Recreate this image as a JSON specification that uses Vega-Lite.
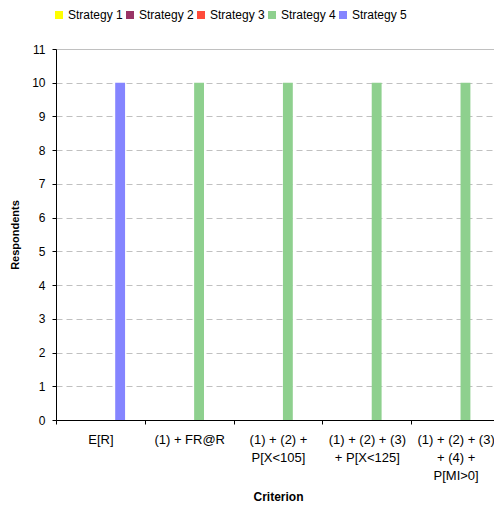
{
  "$schema": "https://vega.github.io/schema/vega-lite/v6.json",
  "autosize": "none",
  "width": 444,
  "height": 371,
  "padding": {"left": 56, "top": 49, "right": 0, "bottom": 87},
  "background": "white",
  "config": {
    "font": "Liberation Sans",
    "view": {"stroke": null}
  },
  "data": {
    "values": [
      {"criterion": "E[R]", "strategy": "Strategy 1", "respondents": 0},
      {"criterion": "E[R]", "strategy": "Strategy 2", "respondents": 0},
      {"criterion": "E[R]", "strategy": "Strategy 3", "respondents": 0},
      {"criterion": "E[R]", "strategy": "Strategy 4", "respondents": 0},
      {"criterion": "E[R]", "strategy": "Strategy 5", "respondents": 10},
      {"criterion": "(1) + FR@R", "strategy": "Strategy 1", "respondents": 0},
      {"criterion": "(1) + FR@R", "strategy": "Strategy 2", "respondents": 0},
      {"criterion": "(1) + FR@R", "strategy": "Strategy 3", "respondents": 0},
      {"criterion": "(1) + FR@R", "strategy": "Strategy 4", "respondents": 10},
      {"criterion": "(1) + FR@R", "strategy": "Strategy 5", "respondents": 0},
      {"criterion": "(1) + (2) +|P[X<105]", "strategy": "Strategy 1", "respondents": 0},
      {"criterion": "(1) + (2) +|P[X<105]", "strategy": "Strategy 2", "respondents": 0},
      {"criterion": "(1) + (2) +|P[X<105]", "strategy": "Strategy 3", "respondents": 0},
      {"criterion": "(1) + (2) +|P[X<105]", "strategy": "Strategy 4", "respondents": 10},
      {"criterion": "(1) + (2) +|P[X<105]", "strategy": "Strategy 5", "respondents": 0},
      {"criterion": "(1) + (2) + (3)|+ P[X<125]", "strategy": "Strategy 1", "respondents": 0},
      {"criterion": "(1) + (2) + (3)|+ P[X<125]", "strategy": "Strategy 2", "respondents": 0},
      {"criterion": "(1) + (2) + (3)|+ P[X<125]", "strategy": "Strategy 3", "respondents": 0},
      {"criterion": "(1) + (2) + (3)|+ P[X<125]", "strategy": "Strategy 4", "respondents": 10},
      {"criterion": "(1) + (2) + (3)|+ P[X<125]", "strategy": "Strategy 5", "respondents": 0},
      {"criterion": "(1) + (2) + (3)|+ (4) +|P[MI>0]", "strategy": "Strategy 1", "respondents": 0},
      {"criterion": "(1) + (2) + (3)|+ (4) +|P[MI>0]", "strategy": "Strategy 2", "respondents": 0},
      {"criterion": "(1) + (2) + (3)|+ (4) +|P[MI>0]", "strategy": "Strategy 3", "respondents": 0},
      {"criterion": "(1) + (2) + (3)|+ (4) +|P[MI>0]", "strategy": "Strategy 4", "respondents": 10},
      {"criterion": "(1) + (2) + (3)|+ (4) +|P[MI>0]", "strategy": "Strategy 5", "respondents": 0}
    ]
  },
  "mark": {"type": "bar"},
  "encoding": {
    "x": {
      "field": "criterion",
      "type": "nominal",
      "sort": null,
      "scale": {"paddingInner": 0, "paddingOuter": 0},
      "axis": {
        "title": "Criterion",
        "titleFontSize": 12,
        "titleFontWeight": "bold",
        "titleColor": "black",
        "titlePadding": 9,
        "labelExpr": "split(datum.label, '|')",
        "labelAngle": 0,
        "labelFontSize": 13,
        "labelColor": "black",
        "labelLineHeight": 18,
        "labelPadding": 9,
        "tickBand": "extent",
        "tickSize": 4,
        "tickColor": "black",
        "domainColor": "black",
        "grid": false
      }
    },
    "xOffset": {
      "field": "strategy",
      "type": "nominal",
      "scale": {
        "domain": ["_a", "_b", "Strategy 1", "Strategy 2", "Strategy 3", "Strategy 4", "Strategy 5", "_c", "_d"],
        "paddingInner": 0,
        "paddingOuter": 0
      }
    },
    "y": {
      "field": "respondents",
      "type": "quantitative",
      "scale": {"domain": [0, 11], "nice": false},
      "axis": {
        "title": "Respondents",
        "titleFontSize": 11,
        "titleFontWeight": "bold",
        "titleColor": "black",
        "titlePadding": 11,
        "values": [0, 1, 2, 3, 4, 5, 6, 7, 8, 9, 10, 11],
        "labelFontSize": 12,
        "labelColor": "black",
        "labelPadding": 7,
        "tickSize": 4,
        "tickColor": "black",
        "domainColor": "black",
        "grid": true,
        "gridColor": "#c0c0c0",
        "gridDash": {"condition": {"test": "datum.value === 11", "value": []}, "value": [6, 4]}
      }
    },
    "color": {
      "field": "strategy",
      "type": "nominal",
      "scale": {
        "domain": ["Strategy 1", "Strategy 2", "Strategy 3", "Strategy 4", "Strategy 5"],
        "range": ["#ffff00", "#993366", "#ff4b3b", "#8ed08e", "#8585ff"]
      },
      "legend": {
        "title": null,
        "orient": "none",
        "legendX": -3,
        "legendY": -40,
        "direction": "horizontal",
        "symbolType": "square",
        "symbolSize": 64,
        "symbolStrokeWidth": 0,
        "labelFontSize": 12,
        "labelColor": "black",
        "labelOffset": 3,
        "columnPadding": 1
      }
    }
  }
}
